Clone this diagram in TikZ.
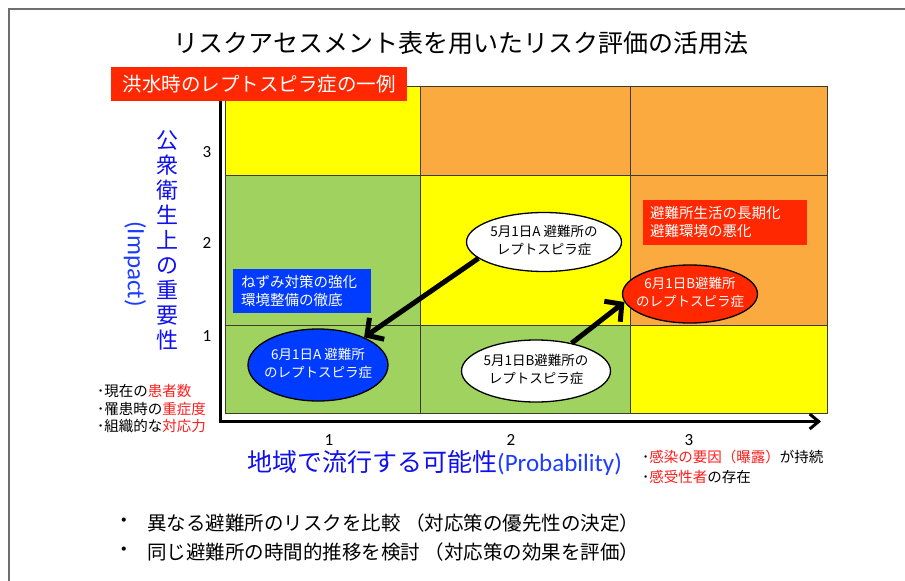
\documentclass[tikz,border=0pt]{standalone}
\usepackage{fontspec}
\setmainfont{Noto Sans CJK JP}
\newfontfamily\calfont{Carlito}
\usetikzlibrary{shapes.geometric,arrows.meta}
\definecolor{cellY}{RGB}{255,255,0}
\definecolor{cellO}{RGB}{251,170,64}
\definecolor{cellG}{RGB}{160,210,96}
\definecolor{hred}{RGB}{255,40,0}
\definecolor{tred}{RGB}{255,30,30}
\definecolor{hblue}{RGB}{0,60,255}
\definecolor{axblue}{RGB}{15,15,240}
\definecolor{impblue}{RGB}{30,60,255}
\definecolor{frameg}{RGB}{110,110,110}
\definecolor{gridl}{RGB}{60,60,45}
\newcommand\twoline[2]{\makebox[0pt]{\begin{tabular}{@{}c@{}}#1\\#2\end{tabular}}}
\tikzset{
  ell/.style={ellipse, draw=black, line width=1.3pt, inner sep=0pt, font=\fontsize{13.5}{18}\selectfont},
  rbox/.style={rectangle, inner ysep=0pt, align=left, font=\fontsize{14.5}{18}\selectfont, text=white},
  tick/.style={font=\calfont\fontsize{17}{20}\selectfont, inner sep=0pt},
  bigarrow/.style={line width=5pt, -{Straight Barb[length=12pt,width=26pt]}},
  axis/.style={line width=3pt, line join=miter, -{Straight Barb[length=9pt,width=15pt]}},
  gridline/.style={draw=gridl, line width=1pt},
  bullettext/.style={anchor=west, inner sep=0pt, font=\fontsize{19.5}{24}\selectfont}
}
\begin{document}
\begin{tikzpicture}[x=1pt,y=-1pt]
\useasboundingbox (0,0) rectangle (905,581);
\fill[white] (0,0) rectangle (905,581);
\draw[frameg, line width=2pt] (9,600) -- (9,9) -- (920,9);

% cells
\fill[cellY] (225,86) rectangle (420,175);
\fill[cellO] (420,86) rectangle (630,175);
\fill[cellO] (630,86) rectangle (827,175);
\fill[cellG] (225,175) rectangle (420,325);
\fill[cellY] (420,175) rectangle (630,325);
\fill[cellO] (630,175) rectangle (827,325);
\fill[cellG] (225,325) rectangle (420,413);
\fill[cellG] (420,325) rectangle (630,413);
\fill[cellY] (630,325) rectangle (827,413);
\draw[gridline] (225,86) rectangle (827,413);
\draw[gridline] (420,86) -- (420,413);
\draw[gridline] (630,86) -- (630,413);
\draw[gridline] (225,175) -- (827,175);
\draw[gridline] (225,325) -- (827,325);

% axes
\coordinate (ytop) at (220,88);
\coordinate (origin) at (220,421.5);
\coordinate (xend) at (821,421.5);
\draw[axis] (ytop) -- (origin) -- (xend);

% title
\node[inner sep=0pt] (title) at (461,43) {\fontsize{25}{30}\selectfont リスクアセスメント表を用いたリスク評価の活用法};
\node[fill=hred, text=white, minimum width=296pt, minimum height=34pt, inner sep=0pt] (example) at (259,84)
  {\fontsize{19.5}{24}\selectfont 洪水時のレプトスピラ症の一例};

% y axis label
\node[text=axblue, align=center, inner sep=0pt, font=\fontsize{22}{25}\selectfont] (ylab) at (167,240)
  {公\\衆\\衛\\生\\上\\の\\重\\要\\性};
\node[rotate=-90, text=impblue, inner sep=0pt, font=\calfont\fontsize{25}{30}\selectfont] (imp) at (135,264) {(Impact)};

% ticks
\node[tick] (y3) at (207,152) {3};
\node[tick] (y2) at (207,243) {2};
\node[tick] (y1) at (207,336) {1};
\node[tick] (x1) at (329,440) {1};
\node[tick] (x2) at (511,440) {2};
\node[tick] (x3) at (689,440) {3};

% x axis label
\node[anchor=west, text=axblue, inner sep=0pt] (xlab) at (247,463)
  {\fontsize{25}{30}\selectfont 地域で流行する可能性{\calfont\color{impblue}(Probability)}};

% notes
\node[anchor=west, align=left, inner sep=0pt, font=\fontsize{14.5}{20}\selectfont] (xnote) at (642,467)
  {･{\color{tred}感染の要因（曝露）}が持続\\･{\color{tred}感受性者}の存在};
\node[anchor=west, align=left, inner sep=0pt, font=\fontsize{14.5}{17.5}\selectfont] (ynote) at (97,409)
  {･現在の{\color{tred}患者数}\\･罹患時の{\color{tred}重症度}\\･組織的な{\color{tred}対応力}};

% cell nodes
\node[rbox, fill=hred, text width=150pt, inner xsep=7pt, minimum height=45pt] (redbox) at (725,222.5)
  {避難所生活の長期化\\避難環境の悪化};
\node[rbox, fill=hblue, text width=122pt, inner xsep=8pt, minimum height=44pt] (bluebox) at (302,291)
  {ねずみ対策の強化\\環境整備の徹底};

\node[ell, fill=white, minimum width=155pt, minimum height=59pt] (w51A) at (544,242)
  {\twoline{5月1日A 避難所の}{レプトスピラ症}};
\node[ell, fill=hred, text=white, minimum width=135pt, minimum height=58pt] (r61B) at (690,294)
  {\twoline{6月1日B避難所}{のレプトスピラ症}};
\node[ell, fill=hblue, text=white, minimum width=140pt, minimum height=72pt] (b61A) at (318,365)
  {\twoline{6月1日A 避難所}{のレプトスピラ症}};
\node[ell, fill=white, minimum width=149pt, minimum height=62pt] (w51B) at (536,371)
  {\twoline{5月1日B避難所の}{レプトスピラ症}};

% arrows
\draw[bigarrow] (w51A.194) -- (b61A.31);
\draw[bigarrow] (w51B.38) -- (r61B.187);

% bottom bullets
\node[inner sep=0pt, font=\fontsize{19.5}{24}\selectfont] (bul1) at (124,523) {・};
\node[bullettext] (line1) at (147,523) {異なる避難所のリスクを比較 （対応策の優先性の決定）};
\node[inner sep=0pt, font=\fontsize{19.5}{24}\selectfont] (bul2) at (124,552) {・};
\node[bullettext] (line2) at (147,552) {同じ避難所の時間的推移を検討 （対応策の効果を評価）};
\end{tikzpicture}
\end{document}
